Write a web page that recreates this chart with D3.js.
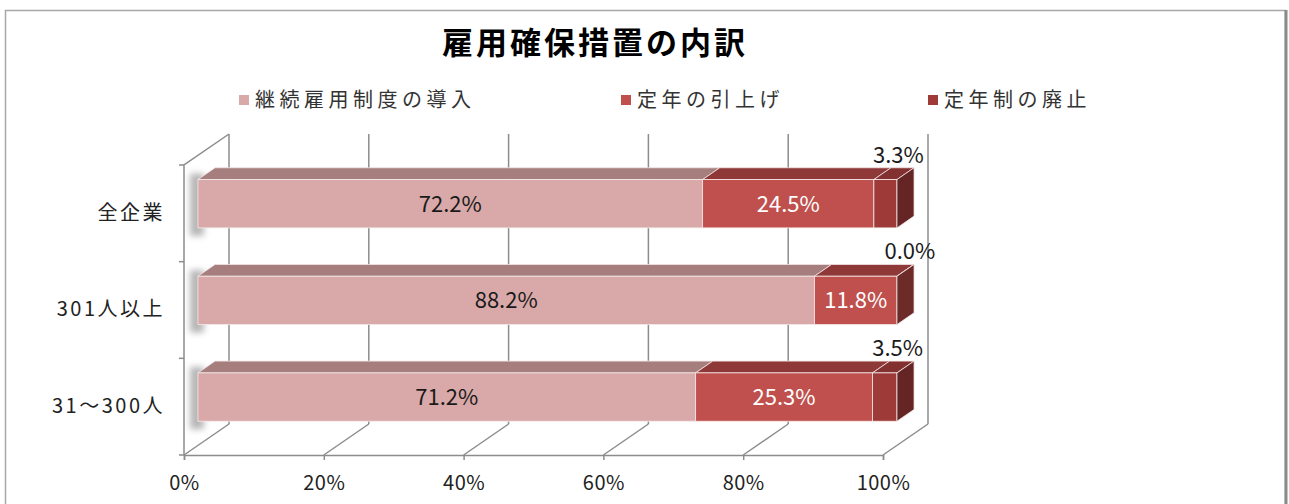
<!DOCTYPE html>
<html>
<head>
<meta charset="utf-8">
<script src="https://cdn.jsdelivr.net/npm/d3@7"></script>
<style>
  body { margin: 0; background: #fff; }
  svg text { font-family: "Noto Sans CJK JP", "Noto Sans", sans-serif; }
</style>
</head>
<body>
<svg id="chart"></svg>
<script>
// ===== données =====
const categories = ["全企業", "301人以上", "31〜300人"];
const seriesNames = ["継続雇用制度の導入", "定年の引上げ", "定年制の廃止"];
const keizoku = [72.2, 88.2, 71.2];   // 継続雇用制度の導入
const hikiage = [24.5, 11.8, 25.3];   // 定年の引上げ
const haishi = [3.3, 0.0, 3.5];       // 定年制の廃止
const xTicks = [0, 20, 40, 60, 80, 100];

const width = 1289;
const height = 504;

// couleurs : face avant, dessus, côté
const colors = [
  { front: "#D8A9A8", top: "#A67E7D", side: "#8C6564" },
  { front: "#C0504D", top: "#8E3937", side: "#6C2A29" },
  { front: "#9E3B39", top: "#833130", side: "#642524" }
];

const svg = d3.select("#chart")
  .attr("width", width)
  .attr("height", height);

const defs = svg.append("defs");
defs.append("filter").attr("id", "blur")
  .attr("x", "-50%").attr("y", "-50%").attr("width", "200%").attr("height", "200%")
  .append("feGaussianBlur").attr("stdDeviation", 3);

// cadre du graphique
svg.append("rect")
  .attr("x", 5.5).attr("y", 10.5)
  .attr("width", 1280).attr("height", 520)
  .attr("fill", "#fff")
  .attr("stroke", "#a6a6a6")
  .attr("stroke-width", 1.5);
svg.append("line")
  .attr("x1", 1286).attr("x2", 1286).attr("y1", 10).attr("y2", height)
  .attr("stroke", "#8a8a8a").attr("stroke-width", 3);

// titre
svg.append("text")
  .attr("x", 595).attr("y", 54)
  .attr("text-anchor", "middle")
  .attr("font-size", 31)
  .attr("font-weight", "bold")
  .attr("letter-spacing", 3)
  .attr("fill", "#000")
  .text("雇用確保措置の内訳");

// légende
const legendX = [239, 621, 928];
const legend = svg.append("g").selectAll("g")
  .data(seriesNames)
  .join("g")
  .attr("transform", (d, i) => `translate(${legendX[i]},100)`);
legend.append("rect")
  .attr("x", 0).attr("y", -5).attr("width", 10).attr("height", 10)
  .attr("fill", (d, i) => colors[i].front);
legend.append("text")
  .attr("x", 16).attr("y", 7)
  .attr("font-size", 20)
  .attr("letter-spacing", 4.5)
  .attr("fill", "#333")
  .text(d => d);

// ===== échelles (plan avant) =====
const x = d3.scaleLinear().domain([0, 100]).range([184, 883]);
const y = d3.scaleBand().domain(categories).range([165, 455])
  .paddingInner(0.5).paddingOuter(0.25);

// profondeur 3D
const DX = 45, DY = -31;
const t0 = 0.31;   // plan avant des barres
const tb = 0.38;   // épaisseur des barres
const gridColor = "#8c8c8c";

const grid = svg.append("g")
  .attr("stroke", gridColor)
  .attr("stroke-width", 1.5)
  .attr("fill", "none");

// mur du fond : lignes verticales
grid.selectAll("line.back")
  .data(xTicks)
  .join("line")
  .attr("class", "back")
  .attr("x1", d => x(d) + DX).attr("x2", d => x(d) + DX)
  .attr("y1", y.range()[0] + DY).attr("y2", y.range()[1] + DY);

// sol : diagonales
grid.selectAll("line.floor")
  .data(xTicks)
  .join("line")
  .attr("class", "floor")
  .attr("x1", d => x(d)).attr("x2", d => x(d) + DX)
  .attr("y1", y.range()[1]).attr("y2", y.range()[1] + DY);

// mur gauche
grid.append("path")
  .attr("d", `M${x(0)},${y.range()[1]} L${x(0)},${y.range()[0]} L${x(0) + DX},${y.range()[0] + DY}`);

// graduations de gauche (limites des catégories)
const bounds = [y.range()[0]].concat(categories.map(c => y(c) - y.step() * y.paddingInner() / 2 + y.step()));
grid.selectAll("line.ytick")
  .data(bounds)
  .join("line")
  .attr("class", "ytick")
  .attr("x1", x(0) - 5).attr("x2", x(0))
  .attr("y1", d => d).attr("y2", d => d);

// axe du bas
const xAxis = svg.append("g")
  .attr("transform", `translate(0,${y.range()[1]})`)
  .call(d3.axisBottom(x).tickValues(xTicks).tickSize(5).tickPadding(16).tickFormat(d => d + "%"));
xAxis.selectAll("path, line").attr("stroke", gridColor).attr("stroke-width", 1.5);
xAxis.selectAll("text")
  .attr("font-size", 20)
  .attr("letter-spacing", 0.5)
  .attr("fill", "#222");

// axe de gauche (libellés)
const yAxis = svg.append("g")
  .attr("transform", `translate(${x(0)},0)`)
  .call(d3.axisLeft(y).tickSize(0).tickPadding(19));
yAxis.select(".domain").remove();
yAxis.selectAll("text")
  .attr("font-size", 20)
  .attr("letter-spacing", 2.5)
  .attr("fill", "#222");

// ===== barres =====
const rows = categories.map((c, i) => {
  const vals = [keizoku[i], hikiage[i], haishi[i]];
  let acc = 0;
  const segs = vals.map((v, k) => {
    const s = { cat: c, k: k, v: v, x0: acc, x1: acc + v };
    acc += v;
    return s;
  });
  return { cat: c, segs: segs, total: acc };
});

const ox = DX * t0, oy = DY * t0;        // décalage plan avant
const bx = DX * tb, by = DY * tb;        // épaisseur

const bars = svg.append("g");

rows.forEach(row => {
  const g = bars.append("g");
  const top = y(row.cat) + oy;
  const bh = y.bandwidth();
  const left = x(0) + ox;

  // ombre
  g.append("rect")
    .attr("x", left - 8).attr("y", top - 6)
    .attr("width", 14).attr("height", bh + 14)
    .attr("fill", "#999")
    .attr("opacity", 0.7)
    .attr("filter", "url(#blur)");

  row.segs.forEach(s => {
    const xa = x(s.x0) + ox, xb = x(s.x1) + ox;
    // dessus
    g.append("path")
      .attr("d", `M${xa},${top} L${xa + bx},${top + by} L${xb + bx},${top + by} L${xb},${top} Z`)
      .attr("fill", colors[s.k].top)
      .attr("stroke", "#f2e6e6").attr("stroke-width", 0.8);
    // face avant
    g.append("rect")
      .attr("x", xa).attr("y", top)
      .attr("width", Math.max(0, xb - xa)).attr("height", bh)
      .attr("fill", colors[s.k].front)
      .attr("stroke", "#f5eaea").attr("stroke-width", 0.8);
  });

  // côté droit du dernier segment visible
  const last = row.segs.filter(s => s.v > 0).pop();
  const xe = x(row.total) + ox;
  g.append("path")
    .attr("d", `M${xe},${top} L${xe + bx},${top + by} L${xe + bx},${top + by + bh} L${xe},${top + bh} Z`)
    .attr("fill", colors[last.k].side)
    .attr("stroke", "#f2e6e6").attr("stroke-width", 0.8);

  // étiquettes
  row.segs.forEach(s => {
    const cx = x((s.x0 + s.x1) / 2) + ox;
    if (s.k < 2) {
      g.append("text")
        .attr("x", cx).attr("y", top + bh / 2 + 8)
        .attr("text-anchor", "middle")
        .attr("font-size", 22)
        .attr("fill", s.k === 0 ? "#1a1a1a" : "#fff")
        .text(s.v.toFixed(1) + "%");
    } else {
      g.append("text")
        .attr("x", cx + 13).attr("y", top - 17)
        .attr("text-anchor", "middle")
        .attr("font-size", 22)
        .attr("fill", "#1a1a1a")
        .text(s.v.toFixed(1) + "%");
    }
  });
});
</script>
</body>
</html>
